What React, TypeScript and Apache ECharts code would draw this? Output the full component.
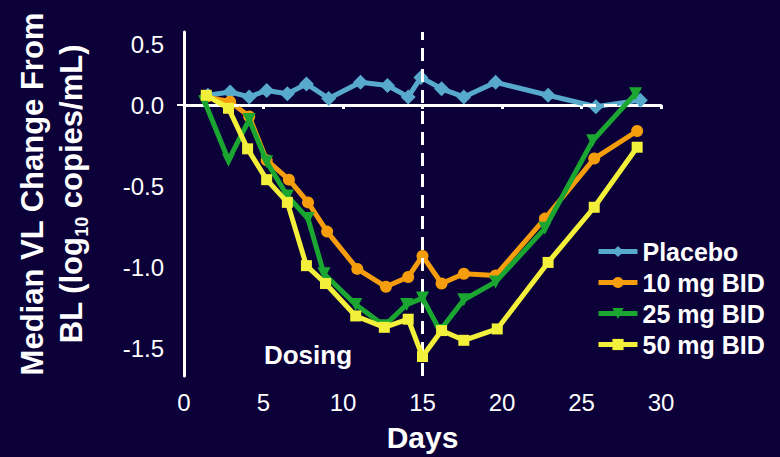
import React, { useEffect, useRef } from "react";
import * as echarts from "echarts";

// ---- data ----
const seriesNames = ["Placebo", "10 mg BID", "25 mg BID", "50 mg BID"];

const placeboDays = [1.5, 2.9, 4.1, 5.2, 6.5, 7.7, 9.1, 11.1, 12.8, 14.1, 14.9, 16.2, 17.6, 19.6, 22.9, 25.9, 28.7];
const placeboValues = [0.06, 0.08, 0.05, 0.09, 0.07, 0.13, 0.04, 0.14, 0.12, 0.05, 0.17, 0.1, 0.05, 0.14, 0.06, -0.01, 0.03];

const dose10Days = [1.4, 2.9, 4.1, 5.2, 6.6, 7.8, 9.0, 10.9, 12.7, 14.1, 15.0, 16.2, 17.6, 19.6, 22.7, 25.8, 28.5];
const dose10Values = [0.05, 0.02, -0.07, -0.34, -0.46, -0.6, -0.78, -1.01, -1.12, -1.06, -0.93, -1.1, -1.04, -1.05, -0.7, -0.33, -0.16];

const dose25Days = [1.3, 2.8, 4.1, 5.2, 6.5, 7.8, 8.8, 10.8, 12.6, 14.0, 15.0, 16.1, 17.6, 19.6, 22.7, 25.7, 28.4];
const dose25Values = [0.02, -0.34, -0.09, -0.35, -0.56, -0.7, -1.04, -1.23, -1.36, -1.23, -1.19, -1.39, -1.2, -1.09, -0.76, -0.22, 0.07];

const dose50Days = [1.4, 2.8, 4.0, 5.2, 6.5, 7.7, 8.9, 10.8, 12.6, 14.1, 15.0, 16.2, 17.6, 19.7, 22.9, 25.8, 28.5];
const dose50Values = [0.06, -0.02, -0.27, -0.46, -0.6, -0.99, -1.1, -1.3, -1.37, -1.32, -1.55, -1.39, -1.45, -1.38, -0.97, -0.63, -0.26];

const xTickInterval = 5;
const xMin = 0;
const xMax = 30;
const yMin = -1.67;
const yMax = 0.45;
const yTickValues = [-1.5, -1.0, -0.5, 0, 0.37];
const yTickLabels = ["-1.5", "-1.0", "-0.5", "0.0", "0.5"];
const dosingEndDay = 15;

// ---- styles ----
const BG = "#0b0038";
const FONT = "'Liberation Sans', Arial, sans-serif";
const colors = ["#58aacd", "#f59d0c", "#1aa631", "#f2f03a"];
const symbols = ["diamond", "circle", "triangle", "rect"];
const symbolSizes = [15, 12, 13, 11];
const symbolRotates = [0, 0, 180, 0];

function pairs(days: number[], values: number[]) {
  return days.map((d, i) => [d, values[i]]);
}

export default function App() {
  const ref = useRef<HTMLDivElement>(null);

  useEffect(() => {
    if (!ref.current) return;
    const chart = echarts.init(ref.current, null, { renderer: "svg" });
    const dataSets = [
      pairs(placeboDays, placeboValues),
      pairs(dose10Days, dose10Values),
      pairs(dose25Days, dose25Values),
      pairs(dose50Days, dose50Values),
    ];

    const series: any[] = dataSets.map((data, i) => ({
      name: seriesNames[i],
      type: "line",
      data,
      symbol: symbols[i],
      symbolSize: symbolSizes[i],
      symbolRotate: symbolRotates[i],
      showAllSymbol: true,
      lineStyle: { color: colors[i], width: 5 },
      itemStyle: { color: colors[i] },
      z: 3 + i,
    }));

    series.unshift({
      type: "line",
      data: [],
      silent: true,
      z: 2,
      markLine: {
        silent: true,
        symbol: "none",
        label: { show: false },
        lineStyle: { color: "#ffffff", type: [13, 8], width: 3 },
        data: [{ yAxis: 0 }, { xAxis: dosingEndDay }],
      },
    });

    chart.setOption({
      animation: false,
      backgroundColor: BG,
      textStyle: { fontFamily: FONT },
      grid: { left: 184, right: 119, top: 32, bottom: 77 },
      xAxis: {
        type: "value",
        min: xMin,
        max: xMax,
        interval: xTickInterval,
        name: "Days",
        nameLocation: "middle",
        nameGap: 46,
        nameTextStyle: { color: "#ffffff", fontSize: 30, fontWeight: "bold", fontFamily: FONT },
        axisLine: { show: true, lineStyle: { color: "#ffffff", width: 3 } },
        axisTick: { show: true, length: 4, lineStyle: { color: "#ffffff", width: 3 } },
        axisLabel: { color: "#ffffff", fontSize: 24, margin: 14, fontFamily: FONT },
        splitLine: { show: false },
      },
      yAxis: {
        type: "value",
        min: yMin,
        max: yMax,
        axisLine: { show: true, lineStyle: { color: "#ffffff", width: 3 } },
        axisTick: { show: true, customValues: [0], length: 7, lineStyle: { color: "#ffffff", width: 2 } },
        axisLabel: {
          customValues: yTickValues,
          formatter: (v: number) => {
            const idx = yTickValues.findIndex((t) => Math.abs(t - v) < 1e-6);
            return idx >= 0 ? yTickLabels[idx] : "";
          },
          color: "#ffffff",
          fontSize: 24,
          margin: 20,
          fontFamily: FONT,
        },
        splitLine: { show: false },
      },
      legend: {
        data: seriesNames,
        orient: "vertical",
        left: 591,
        top: 234,
        itemWidth: 39,
        itemHeight: 14,
        itemGap: 6,
        lineStyle: { width: 5 },
        textStyle: { color: "#ffffff", fontSize: 25, fontWeight: "bold", lineHeight: 25, fontFamily: FONT },
      },
      graphic: [
        {
          type: "text",
          x: 52,
          y: 194,
          rotation: Math.PI / 2,
          style: {
            text: "{b|Median VL Change From}\n{b|BL (log}{s|10}{b| copies/mL)}",
            align: "center",
            verticalAlign: "middle",
            fill: "#ffffff",
            rich: {
              b: { fontSize: 31, fontWeight: "bold", fill: "#ffffff", lineHeight: 39, fontFamily: FONT },
              s: { fontSize: 18, fontWeight: "bold", fill: "#ffffff", lineHeight: 28, verticalAlign: "bottom", fontFamily: FONT },
            },
          },
        },
        {
          type: "text",
          x: 308,
          y: 355,
          style: {
            text: "Dosing",
            fill: "#ffffff",
            fontSize: 26,
            fontWeight: "bold",
            fontFamily: FONT,
            align: "center",
            verticalAlign: "middle",
          },
        },
      ],
      series,
    });

    return () => chart.dispose();
  }, []);

  return (
    <div style={{ position: "fixed", left: 0, top: 0, width: 780, height: 457, background: BG }}>
      <div ref={ref} style={{ width: 780, height: 457 }} />
    </div>
  );
}
